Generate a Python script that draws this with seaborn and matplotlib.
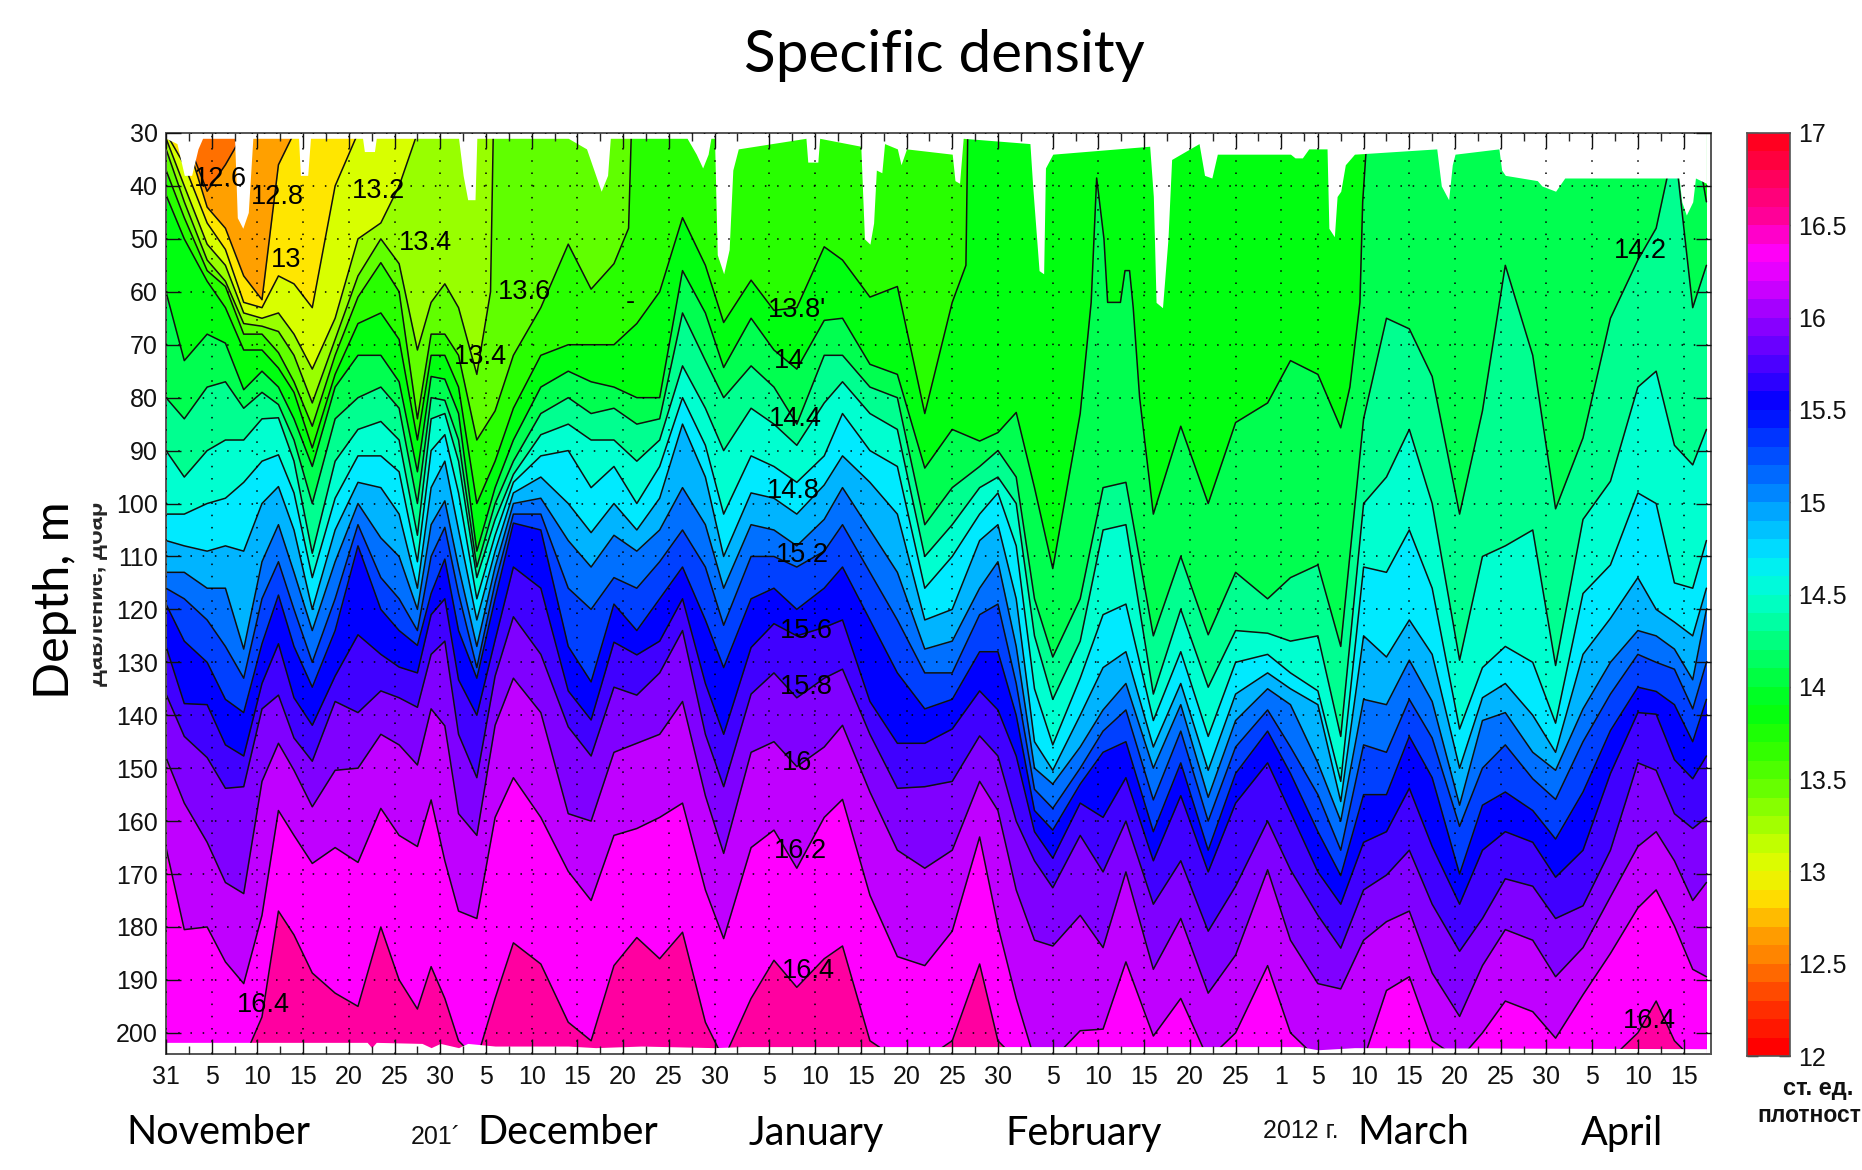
import numpy as np
import matplotlib
matplotlib.use('Agg')
import matplotlib.pyplot as plt
from matplotlib.colors import ListedColormap
from matplotlib.patches import Rectangle
import seaborn as sns

# days since 31 Oct, one column per position
days = [0, 2, 4.5, 6.5, 8.5, 10.5, 12.3, 14, 16, 18.5,
        21, 23.5, 25.5, 27.5, 29, 30.5, 32, 34, 36, 38,
        41, 44, 46.5, 49, 51.5, 54, 56.5, 59, 61, 64,
        66.5, 69, 72, 74, 77, 80, 83, 86, 89, 91,
        93, 95, 97, 100, 102.5, 105, 108, 111, 114, 117,
        120.5, 123, 126, 128.5, 131, 133.5, 136, 138.5, 141.5, 144,
        146.5, 149.5, 152, 155, 158, 161, 163, 165, 167, 168.5]

# depth of each isopycnal, 30 = above the surface, 205 = below the last record
iso_126 = [30, 30, 41, 36] + [30] * 66
iso_128 = [30, 30, 44, 48, 57, 61.5, 36] + [30] * 63
iso_130 = [30, 36, 47, 52, 62, 63, 57, 58.5, 63, 40] + [30] * 60
iso_132 = [31, 40, 51, 55, 64, 65, 64, 68, 74.6, 65, 50, 47, 40] + [30] * 57
iso_134 = [33, 43, 54, 58, 66, 66.5, 67.5, 72, 81, 69,
           57, 50, 54.7, 71, 62, 58.5, 63, 75.6, 60, 30, 30]
iso_134_days = days[:18] + [35.5, 35.8, 168.5]
iso_136 = [37, 46, 56, 59, 68, 68, 71.5, 77, 85.4, 72,
           61, 54.5, 60, 84, 68, 68, 72, 88, 82.5, 72,
           63, 51, 59.5, 54.7, 48, 30, 30]
iso_136_days = days[:24] + [50.6, 50.9, 168.5]
iso_138 = [41.7, 50, 58, 63, 71, 71, 74.4, 79, 89.5, 75.6,
           66, 64, 69, 88, 72, 72, 78, 100, 92, 82,
           72, 70, 70, 70, 66, 60, 46, 55, 65.8, 57.8,
           63.5, 63, 51.5, 54, 61, 59, 83, 62, 55, 30, 30]
iso_138_days = days[:38] + [87.5, 87.7, 168.5]
iso_140 = [60, 73, 68, 69.7, 78.5, 75, 78, 84, 93, 78,
           72, 72, 77, 94, 76, 76.5, 83, 109, 97, 88,
           78, 75, 77, 78, 80, 80, 56, 64, 74.3, 65,
           71, 74.6, 65.4, 65, 73.7, 75.6, 93.3, 86, 88.2, 86.6,
           82.8, 97, 112.3,
           83, 62, 38.5, 50, 62, 62, 56, 56, 63, 80,
           102, 85.4, 100, 84.7,
           81, 73, 75.6, 85.7, 78, 62, 43, 30, 30, 43]
iso_140_days = days[:43] + [100, 101.2, 101.8, 102.6, 103, 104.4, 104.9, 105.4, 105.8, 106.5] + days[46:54] + [
    129.5, 130.6, 130.9, 131.4, 167.2, 168.5]
iso_142 = [80, 84, 78, 77, 82, 79, 81.3, 88, 100, 84,
           80, 78, 82, 100, 80, 80.5, 88, 112, 100, 92,
           83, 80, 83, 82, 85, 84, 64, 73, 80, 74,
           78, 85, 72, 72, 78, 80, 104, 97, 93, 90,
           95, 118, 129, 118, 97, 96, 125, 110, 124.8, 113,
           118, 114, 111.6, 127, 84, 65, 67, 76, 102, 82.5,
           55, 72, 101, 87.6, 65, 54, 48, 32, 63, 55]
iso_144 = [90, 95, 90, 88, 88, 84, 83.8, 92, 109.4, 92,
           86, 84.5, 88, 106, 84, 83, 92, 114, 103, 94.5,
           87, 85, 88, 88, 92, 88, 74, 82, 90, 82,
           85, 89, 81, 77, 83, 86, 110, 104, 97, 95,
           100, 125, 137, 126, 105, 104, 136, 120, 134.7, 124,
           124.5, 126, 125, 144, 100, 95, 86, 100, 129.6, 110,
           108, 105, 130.6, 103, 95.8, 78, 75, 89, 92.7, 86]
iso_146 = [102, 102, 100, 99, 96, 92, 90.8, 98, 114, 99,
           91, 91, 94, 111, 90, 87, 98, 118, 106, 96,
           91, 90, 97, 93, 100, 93, 80, 89, 102, 91,
           93, 96, 91, 83, 90, 93, 116, 110, 102, 98,
           108, 135, 145.6, 133, 121, 119, 141, 128, 144, 130,
           128.5, 132, 135.4, 152.5, 112, 113, 105, 116, 142.6, 131,
           127, 130, 141.5, 117, 111.6, 98, 100, 115, 116, 107]
iso_148 = [107, 108, 109, 108, 109, 100, 96.8, 105, 120, 105,
           96, 97, 102, 116, 97, 92, 105, 122, 109, 98,
           95, 100, 105.5, 100, 105, 99, 85, 95, 110, 98,
           99, 102, 96.5, 91, 96, 102, 122, 120, 107, 104,
           118, 145, 150.4, 140, 131, 128, 146, 134, 150.4, 136,
           132, 135, 138, 156.3, 125, 129, 122, 128.5, 150, 136.7,
           134, 140, 147, 128.5, 121.7, 114, 120, 122.4, 125, 116]
iso_150 = [113, 113, 116, 116, 127.5, 111, 104, 113, 124, 111,
           100, 106.5, 110, 120, 104, 99.5, 112, 127, 112, 100,
           99, 107, 112, 106, 109, 105, 97, 104, 116, 104,
           105, 108, 103, 97, 105, 113, 127.5, 126, 116, 111,
           127, 150, 153, 146, 139, 134, 150, 138, 155.5, 141,
           135, 138, 149, 160, 137, 138, 129.6, 137.4, 157, 141,
           139.5, 147, 150.4, 138.8, 130, 124, 125, 127.5, 133.3, 120]
iso_152 = [116, 118, 122, 127, 133, 118, 111, 120, 130, 118,
           104, 114, 118, 124, 110, 104.5, 117, 131, 115, 102,
           102, 116, 120, 114, 116, 111, 105, 112, 123, 110,
           110, 112, 109, 104, 113, 122, 132, 132, 121, 119,
           134, 154, 157.6, 150, 143, 139, 156, 143, 160, 146,
           139, 146, 155, 165.5, 145.6, 147, 137, 144.3, 161, 150,
           145.6, 152, 155.9, 145, 136, 128.5, 130, 131.3, 138.8, 130]
iso_154 = [119, 126, 130, 137, 139.5, 126.5, 117.3, 127, 134.7, 124,
           108, 120, 124, 126.8, 117, 110.5, 124, 133, 118, 103.7,
           105, 127, 133.7, 119, 124, 118, 112, 122, 131, 118,
           116, 120, 116, 112, 122, 132, 138.8, 137, 128, 128,
           140, 158, 161.7, 153, 147, 145, 162, 149, 165.5, 151,
           143, 151, 162, 170.3, 155, 155, 144, 151.8, 170, 157,
           154.5, 158, 163.4, 154.5, 142.9, 134.7, 135.5, 138, 145, 137]
iso_156 = [127, 137.8, 138, 145.6, 147.7, 134, 126.5, 136.7, 141.9, 132.6,
           124.8, 128.5, 130.9, 132, 121, 118, 133.3, 140, 125.8, 112,
           116, 135.4, 140.9, 126.2, 128.6, 126, 118, 134, 143.6, 127.2,
           122.7, 125, 123.4, 122, 137.4, 145.3, 145.3, 142.6, 135.4, 139,
           147.7, 162, 167, 156.6, 159.3, 151.8, 167.5, 155.2, 169.6, 156.6,
           149, 158.3, 169.6, 175.7, 164, 162, 153.8, 164.8, 175.7, 165.5,
           162, 164, 170.6, 165.5, 151, 139.5, 139.8, 148.4, 152, 147.7]
iso_158 = [136, 144, 148, 153.8, 153.5, 138.8, 136.2, 144.3, 148.7, 137.4,
           139.5, 135.4, 136.7, 138.5, 128.5, 126, 143.6, 151.8, 132.6, 121.4,
           128.5, 142.2, 147.7, 134.7, 136.2, 132, 124, 143.6, 153.5, 136,
           132, 136.7, 133, 131.3, 143.6, 153.8, 153.5, 152.5, 143.9, 147.7,
           160, 167.5, 172.6, 162.7, 169.6, 160, 175.7, 167.5, 180.8, 172.3,
           160, 169.2, 177.8, 184, 173, 170.2, 165.5, 175.7, 184.6, 178.4,
           170.9, 172.3, 178.4, 176, 165.5, 149, 150.4, 158.6, 161.4, 159.3]
iso_160 = [148, 156.6, 164, 171.6, 173.7, 152.5, 145.3, 150.4, 157.3, 150.4,
           150, 143.6, 145.6, 149.4, 138.8, 142, 158.6, 162.7, 141.9, 133,
           139.5, 158.6, 160, 147, 145.3, 143.6, 137.4, 155.2, 166.1, 147,
           145, 149.7, 146, 141.9, 154.5, 165.5, 168.9, 165.5, 152.5, 158,
           173, 182.5, 183.6, 177.8, 183.9, 169.6, 188, 178.4, 192.5, 185.3,
           169.2, 182.5, 190.7, 191.7, 182.5, 179, 177, 188.7, 196.9, 187.3,
           180.5, 182.5, 189.4, 183.9, 174.3, 164.8, 162, 167.5, 175, 171.6]
iso_162 = [165, 180.5, 180, 186.6, 190.7, 177.8, 158, 162.7, 168, 165,
           167.8, 157.6, 162.7, 164.8, 156, 167.5, 177, 178.4, 159.3, 151.8,
           159.3, 169.5, 175, 162.7, 161.4, 159.3, 156.6, 173, 182.2, 165,
           161.7, 168.9, 159.3, 155.9, 174, 185.6, 187.3, 180.8, 163, 179.8,
           193.5, 205, 205, 199.6, 199.3, 186.6, 200.6, 193.5, 205, 200,
           187.3, 200, 205, 205, 205, 192, 189.4, 201.5, 205, 200,
           194, 196, 201, 192.8, 185, 176.4, 173, 179.8, 188, 189.4]
iso_164 = [205, 205, 205, 205, 205, 197, 177, 181.5, 188.7, 192.5,
           195, 180, 190, 195.5, 187.5, 193.5, 201.5, 205, 193.5, 183,
           187, 198, 201.5, 187.3, 182, 186, 181, 198, 205, 193.5,
           186.3, 191.4, 186, 183.6, 201.5, 205, 205, 201.5, 187, 201.5] + [205] * 25 + [200, 194, 201.5, 205, 205]

isolines = [iso_126, iso_128, iso_130, iso_132, iso_134, iso_136, iso_138, iso_140, iso_142, iso_144,
            iso_146, iso_148, iso_150, iso_152, iso_154, iso_156, iso_158, iso_160, iso_162, iso_164]
iso_days = [days, days, days, days, iso_134_days, iso_136_days, iso_138_days, iso_140_days] + [days] * 12

# band colours every 0.2 from 12 to 17
band_colors = ['#ff0000', '#ff3000', '#ff7000', '#ffa000', '#ffe600', '#d8ff00', '#98ff00', '#60ff00', '#28ff00',
               '#00ff10', '#00ff50', '#00ff90', '#00ffd0', '#00eaff', '#00b4ff', '#0070ff', '#0040ff', '#0000ff',
               '#4000ff', '#8000ff', '#c000ff', '#ff00ff', '#ff00a0', '#ff0060', '#ff0020']

# top of the record (white notches) and bottom of the record
surface_days = [0, 1.2, 2, 2.8, 3.5, 4, 7.5, 7.8, 8.4, 9, 9.5, 14.5, 14.7, 15.5, 15.8, 21.5, 21.7, 22.8, 23, 32, 32.5,
                33, 33.8, 34, 44, 46, 47, 47.6, 48.3, 48.6, 57, 58, 58.7, 59.3, 59.6, 60, 60.3, 61, 61.6, 62, 62.6,
                70, 70.2, 71.3, 71.5, 76, 76.4, 77, 77.4, 77.7, 78.3, 78.6, 80, 80.4, 81, 86, 86.3, 86.8, 87.2, 94.5,
                94.8, 95.5, 96, 96.2, 97, 107.6, 108, 108.3, 109, 109.6, 110, 113, 113.6, 114.4, 115, 123, 123.5,
                124.3, 125, 127, 127.2, 127.8, 128.1, 128.5, 129, 130, 139, 139.5, 140.3, 140.7, 141, 145.8, 146.1,
                146.5, 150, 150.5, 152, 153, 165.5, 165.8, 166.3, 167, 167.3, 168.5]
surface_depth = [31, 32, 38, 38, 33, 31, 31, 46, 48, 45, 31, 31, 38, 38, 31, 31, 33.5, 33.5, 31, 31, 38,
                 42.6, 42.6, 31, 31, 33, 38, 41, 38, 31, 31, 34, 36.6, 34, 31, 31, 53, 56.6, 52, 37, 33,
                 31, 35.5, 35.5, 31, 32.5, 50, 51, 47, 37, 37.5, 32, 33, 36, 33, 34, 39, 39.5, 31, 32,
                 40, 56, 56.6, 36.6, 34, 32.5, 42, 62, 63, 50, 35, 32, 38, 38.5, 34, 34, 34.7,
                 34.7, 33, 33, 48, 49.6, 42, 41, 36, 34, 33, 40, 42.6, 36, 34, 33, 37,
                 38, 39, 40, 41, 38.5, 38.5, 43, 45.5, 43, 38.5, 39.5]
bottom_days = [0, 22, 22.5, 23, 28, 29, 30, 32, 33, 36, 44, 47, 52, 60, 63, 100, 124, 126, 128, 130, 168.5]
bottom_depth = [201.8, 201.8, 202.8, 201.8, 202, 202.8, 202, 202.8, 202, 202.5, 202.5, 202.8, 202.5, 202.8, 202.6,
                202.6, 202.6, 203.2, 203, 202.8, 203]

# tick positions (day numbers) and their labels as printed
tick_days = [0, 5, 10, 15, 20, 25, 30, 35, 40, 45, 50, 55, 60, 66, 71, 76, 81, 86, 91, 97, 102, 107, 112, 117,
             122, 126, 131, 136, 141, 146, 151, 156, 161, 166]
tick_labels = ['31', '5', '10', '15', '20', '25', '30', '5', '10', '15', '20', '25', '30', '5', '10', '15', '20', '25',
               '30', '5', '10', '15', '20', '25', '1', '5', '10', '15', '20', '25', '30', '5', '10', '15']
depth_ticks = list(range(30, 201, 10))

# inline contour labels
label_text = ['12.6', '12.8', '13', '13.2', '13.4', '13.6', '13.4', "13.8'", '14', '14.4', '14.8', '15.2', '15.6',
              '15.8', '16', '16.2', '16.4', '16.4', '14.2', '16.4', '-']
label_days = [6, 12.2, 13.1, 23.2, 28.4, 39.2, 34.4, 69, 68.2, 68.8, 68.6, 69.6, 70, 70, 69, 69.4, 70.3, 10.6, 161.3,
              162.3, 50.8]
label_depth = [38.7, 42, 54, 41, 50.8, 60, 72.3, 63.4, 73, 84, 97.6, 109.7, 124, 134.6, 149, 165.7, 188.3, 194.8,
               52.2, 197.8, 62]

cbar_ticks = ['12', '12.5', '13', '13.5', '14', '14.5', '15', '15.5', '16', '16.5', '17']

sns.set_theme(style='white')
plt.rcParams['font.family'] = ['Liberation Sans', 'DejaVu Sans']

W, H = 1862, 1170
fig = plt.figure(figsize=(W / 100, H / 100), dpi=100)
ax = fig.add_axes([166 / W, 1 - 1054 / H, (1711 - 166) / W, (1054 - 133) / H])

# each band is painted from its upper isoline down, later ones override
ax.fill_between(days, 30, 205, color=band_colors[2], lw=0, zorder=1)
for i, (x, iso) in enumerate(zip(iso_days, isolines)):
    ax.fill_between(x, iso, 205, color=band_colors[i + 3], lw=0, zorder=1 + i * 0.001)
for x, iso in zip(iso_days, isolines):
    sns.lineplot(x=x, y=iso, ax=ax, color='#101010', lw=1.1, estimator=None, sort=False, legend=False, zorder=2)

# blank out what lies outside the record
ax.fill_between(surface_days, 29, surface_depth, color='white', lw=0, zorder=2.2)
ax.fill_between(bottom_days, bottom_depth, 206, color='white', lw=0, zorder=2.2)

ax.set_xlim(0, 169)
ax.set_ylim(204, 30)
ax.set_xticks(tick_days)
ax.set_xticklabels(tick_labels)
ax.set_xticks([t + 2.5 for t in tick_days[:-1]], minor=True)
ax.set_yticks(depth_ticks)
ax.set_xlabel('')
ax.set_ylabel('')
ax.set_axisbelow(False)
ax.grid(True, which='major', color='black', ls=(0, (1, 7)), lw=1.1)
ax.tick_params(axis='both', which='major', direction='in', length=11, width=1, top=True, right=True, bottom=True,
               left=True, labelsize=18, colors='#111111', pad=8)
ax.tick_params(axis='y', which='major', pad=6)
ax.tick_params(axis='x', which='minor', direction='in', length=6, width=1, top=True, bottom=True)
for s in ax.spines.values():
    s.set_color('#555555')
    s.set_linewidth(1.4)

for t, x, y in zip(label_text, label_days, label_depth):
    ax.text(x, y, t, fontsize=19.5, color='black', ha='center', va='center', zorder=5)

# colour bar, 50 steps
cax = fig.add_axes([1747 / W, 1 - 1056 / H, (1790 - 1747) / W, (1056 - 133) / H])
cbar_cmap = ListedColormap(sns.blend_palette(band_colors, 50))
sns.heatmap(np.arange(50).reshape(-1, 1), cmap=cbar_cmap, cbar=False, ax=cax, xticklabels=False, yticklabels=False)
cax.set_ylim(0, 50)
cax.set_yticks(np.arange(0, 51, 5))
cax.set_yticklabels(cbar_ticks, rotation=0)
cax.yaxis.tick_right()
cax.tick_params(axis='y', direction='in', length=8, width=1, left=True, right=True, labelsize=18, colors='#111111',
                pad=6)
for s in cax.spines.values():
    s.set_visible(True)
    s.set_color('#555555')
    s.set_linewidth(1.2)

# half hidden original axis title, the box covers its left part
fig.text(97 / W, 1 - 594 / H, 'Давление, дбар', rotation=90, fontsize=17, ha='center', va='center', fontweight='bold',
         zorder=1)
fig.add_artist(Rectangle((60 / W, 1 - 700 / H), 32 / W, 210 / H, transform=fig.transFigure, color='white', zorder=2))

fig.text(944 / W, 1 - 56 / H, 'Specific density', family='Lato', fontsize=42, ha='center', va='center', color='black')
fig.text(55 / W, 1 - 600 / H, 'Depth, m', family='Lato', fontsize=35, rotation=90, ha='center', va='center',
         color='black', zorder=4)

months = ['November', 'December', 'January', 'February', 'March', 'April']
month_x = [218, 568, 816, 1084, 1413, 1622]
for m, x in zip(months, month_x):
    fig.text(x / W, 1 - 1133 / H, m, family='Lato', fontsize=28.5, ha='center', va='center', color='black')

fig.text(436 / W, 1 - 1137 / H, '201´', fontsize=18, ha='center', va='center', color='#111111')
fig.text(1301 / W, 1 - 1131 / H, '2012 г.', fontsize=18, ha='center', va='center', color='#111111')
fig.text(1818 / W, 1 - 1088 / H, 'ст. ед.', fontsize=17, fontweight='bold', ha='center', va='center', color='#111111')
fig.text(1861 / W, 1 - 1115 / H, 'плотност', fontsize=16.5, fontweight='bold', ha='right', va='center', color='#111111')

fig.savefig('out.png', dpi=100, facecolor='white')
